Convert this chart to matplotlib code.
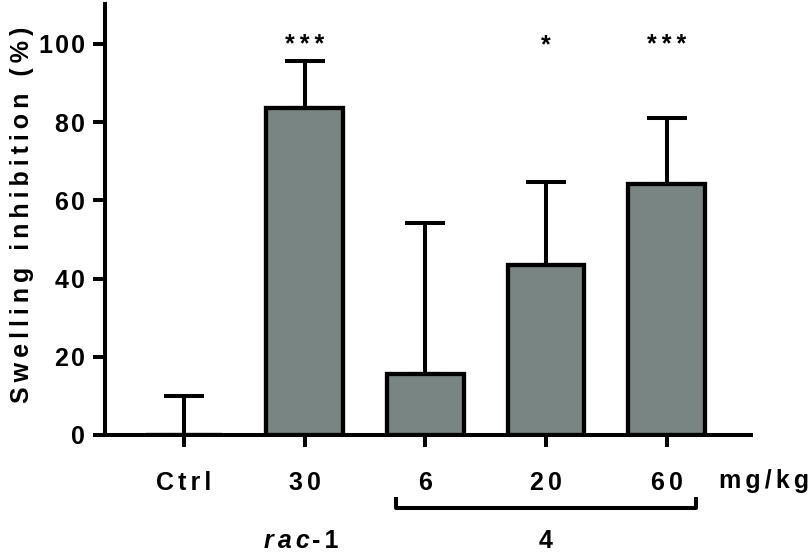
import matplotlib
matplotlib.use("Agg")
import matplotlib.pyplot as plt
import numpy as np

categories = ["Ctrl", "30", "6", "20", "60"]
values = [0.0, 83.5, 15.6, 43.5, 64.3]
errors = [10.0, 12.2, 38.6, 21.2, 16.8]
stars = ["", "***", "", "*", "***"]
yticks = [0, 20, 40, 60, 80, 100]

SP6 = "\u2006"   # six-per-em space
THIN = "\u2009"
HAIR = "\u200A"
def spaced(s, sp=SP6):
    return sp.join(list(s))

plt.rcParams['font.family'] = ['Liberation Sans', 'DejaVu Sans']
plt.rcParams['font.weight'] = 'bold'
FS = 18
LW = 2.9

fig = plt.figure(figsize=(8.1, 5.55), dpi=100)
ax = fig.add_axes([105/810, 1-435/555, (751-105)/810, (435-4)/555])

x = np.arange(len(categories))
ax.bar(x, values, width=0.635, color="#798583", edgecolor="black", linewidth=3.1, zorder=2)
ax.errorbar(x, values, yerr=[np.zeros(len(errors)), errors], fmt="none", ecolor="black",
            elinewidth=LW, capsize=14.5, capthick=LW, zorder=1)
for xi, s in zip(x, stars):
    if s:
        ax.text(xi, 97.8, spaced(s, THIN), ha="center", va="baseline", fontsize=FS, fontweight="bold")

ax.set_xlim(-0.655, 4.7)
ax.set_ylim(0, 110.2)
ax.set_xticks(x)
ax.set_xticklabels([spaced(c) for c in categories], fontsize=FS, fontweight="bold")
ax.set_yticks(yticks)
ax.set_yticklabels([spaced(str(t), HAIR) for t in yticks], fontsize=FS, fontweight="bold")
ax.tick_params(axis="both", width=LW, length=8.6, direction="out")
ax.tick_params(axis="y", pad=6)
ax.tick_params(axis="x", pad=17.5)
for side in ["top", "right"]:
    ax.spines[side].set_visible(False)
for side in ["left", "bottom"]:
    ax.spines[side].set_linewidth(LW)

fig.text(22/810, 1-215/555, spaced("Swelling inhibition (%)", THIN), rotation=90, ha="center", va="center",
         fontsize=FS, fontweight="bold")
fig.text(809/810, 1-481/555, spaced("mg/kg"), ha="right", va="center", fontsize=FS, fontweight="bold")

# bracket under group 4
trans = ax.get_xaxis_transform()
bx0, bx1 = 1.76, 4.24
yb = -(508-435)/431
yt = -(499-435)/431
ax.plot([bx0, bx0, bx1, bx1], [yt, yb, yb, yt], color="black", lw=LW, transform=trans, clip_on=False)

fig.text(310/810, 1-541/555, spaced("rac"), ha="right", va="center", fontsize=FS,
         fontweight="bold", fontstyle="italic")
fig.text(312/810, 1-541/555, spaced("-1"), ha="left", va="center", fontsize=FS, fontweight="bold")
fig.text(546/810, 1-541/555, "4", ha="center", va="center", fontsize=FS, fontweight="bold")

fig.savefig("out.png", dpi=100)
